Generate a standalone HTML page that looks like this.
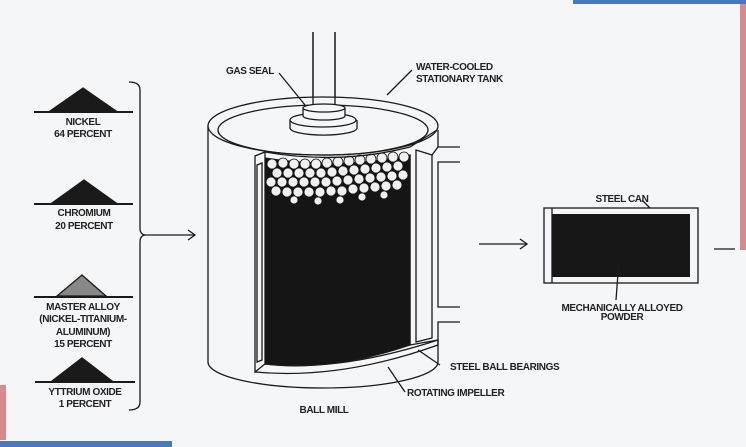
<!DOCTYPE html>
<html><head><meta charset="utf-8"><style>
html,body{margin:0;padding:0;background:#f5f6f8;}
svg{display:block;}
text{font-family:"Liberation Sans",sans-serif;font-size:10px;font-weight:bold;fill:#222;letter-spacing:-0.4px;}
</style></head><body>
<svg width="746" height="447" viewBox="0 0 746 447" xmlns="http://www.w3.org/2000/svg">
<rect width="746" height="447" fill="#f5f6f8"/>
<rect x="573" y="0" width="173" height="4" fill="#4a78c0"/>
<rect x="740" y="4" width="6" height="246" fill="#d98a8e"/>
<rect x="0" y="385" width="6" height="55" fill="#d98a8e"/>
<rect x="0" y="441" width="172" height="6" fill="#4a78c0"/>

<g stroke="#1a1a1a" stroke-width="1.3" fill="none">
<g fill="#1a1a1a">
<path d="M50,111 L83,88 L116,111 Z"/>
<path d="M52,203 L84,180 L116,203 Z"/>
<path d="M57,296 L82,275 L106,296 Z" fill="#888"/>
<path d="M52,381 L82,358 L112,381 Z"/>
</g>
<line x1="34" y1="112" x2="133" y2="112" stroke-width="2"/>
<line x1="34" y1="204" x2="133" y2="204" stroke-width="2"/>
<line x1="34" y1="297" x2="133" y2="297" stroke-width="2"/>
<line x1="35" y1="382" x2="135" y2="382" stroke-width="2"/>
<path d="M129,82 Q140,82 140,90 L140,228 Q140,235 146,235 Q140,235 140,242 L140,402 Q140,410 129,410"/>
<line x1="146" y1="235" x2="195" y2="235"/>
<path d="M188,230 L195,235 L188,240"/>

<line x1="313" y1="32" x2="313" y2="108"/>
<line x1="335" y1="32" x2="335" y2="108"/>
<path d="M208,126 L208,362 A115,26 0 0 0 438,362 L438,340"/>
<ellipse cx="323" cy="126" rx="115" ry="29" fill="#f5f6f8"/>
<ellipse cx="323" cy="130" rx="105" ry="25"/>
<path d="M290,120 L290,128 A33,7 0 0 0 357,128 L357,120" fill="#f5f6f8"/>
<ellipse cx="323" cy="120" rx="33" ry="7" fill="#f5f6f8"/>
<path d="M303,108 L303,116 A21,4 0 0 0 345,116 L345,108" fill="#f5f6f8"/>
<ellipse cx="324" cy="108" rx="21" ry="4" fill="#f5f6f8"/>
<line x1="313" y1="32" x2="313" y2="104"/>
<line x1="335" y1="32" x2="335" y2="104"/>
<path d="M265,158 L265,364 Q330,372 410,345 L410,155 Q340,170 265,158 Z" fill="#151515"/>
<g fill="#f0f0f0" stroke="#151515" stroke-width="0.8">
<circle cx="272" cy="164" r="5"/><circle cx="283" cy="163" r="5"/><circle cx="294" cy="164" r="5"/><circle cx="305" cy="164" r="5"/><circle cx="316" cy="164" r="5"/><circle cx="327" cy="163" r="5"/><circle cx="338" cy="162" r="5"/><circle cx="349" cy="161" r="5"/><circle cx="360" cy="160" r="5"/><circle cx="371" cy="159" r="5"/><circle cx="382" cy="158" r="5"/><circle cx="393" cy="157" r="5"/><circle cx="404" cy="157" r="5"/>
<circle cx="277" cy="173" r="5"/><circle cx="288" cy="173" r="5"/><circle cx="299" cy="173" r="5"/><circle cx="310" cy="173" r="5"/><circle cx="321" cy="173" r="5"/><circle cx="332" cy="172" r="5"/><circle cx="343" cy="171" r="5"/><circle cx="354" cy="170" r="5"/><circle cx="365" cy="169" r="5"/><circle cx="376" cy="168" r="5"/><circle cx="387" cy="167" r="5"/><circle cx="398" cy="166" r="5"/>
<circle cx="271" cy="182" r="5"/><circle cx="282" cy="182" r="5"/><circle cx="293" cy="182" r="5"/><circle cx="304" cy="182" r="5"/><circle cx="315" cy="182" r="5"/><circle cx="326" cy="182" r="5"/><circle cx="337" cy="181" r="5"/><circle cx="348" cy="180" r="5"/><circle cx="359" cy="179" r="5"/><circle cx="370" cy="178" r="5"/><circle cx="381" cy="177" r="5"/><circle cx="392" cy="176" r="5"/><circle cx="403" cy="175" r="5"/>
<circle cx="276" cy="191" r="5"/><circle cx="287" cy="192" r="5"/><circle cx="298" cy="192" r="5"/><circle cx="309" cy="192" r="5"/><circle cx="320" cy="192" r="5"/><circle cx="331" cy="191" r="5"/><circle cx="342" cy="191" r="5"/><circle cx="353" cy="189" r="5"/><circle cx="364" cy="188" r="5"/><circle cx="375" cy="187" r="5"/><circle cx="386" cy="186" r="5"/><circle cx="397" cy="185" r="5"/>
<circle cx="294" cy="200" r="4"/><circle cx="318" cy="201" r="4"/><circle cx="340" cy="200" r="4"/><circle cx="362" cy="197" r="4"/><circle cx="384" cy="195" r="4"/>
</g>
<path d="M265,152 Q340,165 410,147 L437,130"/>
<path d="M255,156 L255,372 L265,364 L265,152 Z" fill="#f5f6f8"/>
<path d="M257,165 L257,362 L262,360 L262,163 Z"/>
<path d="M255,372 Q340,380 438,345 L438,340 Q340,372 265,364"/>
<path d="M410,155 L410,345 L438,340 L438,322 L460,322"/>
<path d="M438,130 L438,147 L460,147"/>
<path d="M460,162 L438,162 L438,307 L460,307"/>
<path d="M416,150 L416,342 L432,338 L432,155 Z" fill="#f5f6f8"/>
<path d="M432,155 L438,147"/>

<line x1="279" y1="73" x2="305" y2="105"/>
<line x1="412" y1="70" x2="387" y2="95"/>
<line x1="440" y1="365" x2="418" y2="350"/>
<line x1="405" y1="392" x2="388" y2="367"/>

<line x1="479" y1="244" x2="527" y2="244"/>
<path d="M520,239 L527,244 L520,249"/>
<rect x="544" y="208" width="154" height="75" fill="#f5f6f8"/>
<rect x="552" y="214" width="138" height="63" fill="#171717" stroke="none"/>
<line x1="552" y1="208" x2="552" y2="283"/>
<line x1="642" y1="200" x2="650" y2="208"/>
<line x1="619" y1="260" x2="616" y2="300"/>
<line x1="714" y1="249" x2="735" y2="249"/>
</g>

<g>
<text x="83" y="125" text-anchor="middle">NICKEL</text>
<text x="83" y="137" text-anchor="middle">64 PERCENT</text>
<text x="84" y="216" text-anchor="middle">CHROMIUM</text>
<text x="84" y="229" text-anchor="middle">20 PERCENT</text>
<text x="83" y="310" text-anchor="middle">MASTER ALLOY</text>
<text x="83" y="322" text-anchor="middle">(NICKEL-TITANIUM-</text>
<text x="83" y="335" text-anchor="middle">ALUMINUM)</text>
<text x="83" y="347" text-anchor="middle">15 PERCENT</text>
<text x="85" y="395" text-anchor="middle">YTTRIUM OXIDE</text>
<text x="85" y="407" text-anchor="middle">1 PERCENT</text>
<text x="226" y="74">GAS SEAL</text>
<text x="416" y="70">WATER-COOLED</text>
<text x="416" y="82">STATIONARY TANK</text>
<text x="450" y="370">STEEL BALL BEARINGS</text>
<text x="407" y="396">ROTATING IMPELLER</text>
<text x="324" y="413" text-anchor="middle">BALL  MILL</text>
<text x="622" y="202" text-anchor="middle">STEEL CAN</text>
<text x="622" y="311" text-anchor="middle">MECHANICALLY ALLOYED</text>
<text x="622" y="320" text-anchor="middle">POWDER</text>
</g>
</svg>
</body></html>
